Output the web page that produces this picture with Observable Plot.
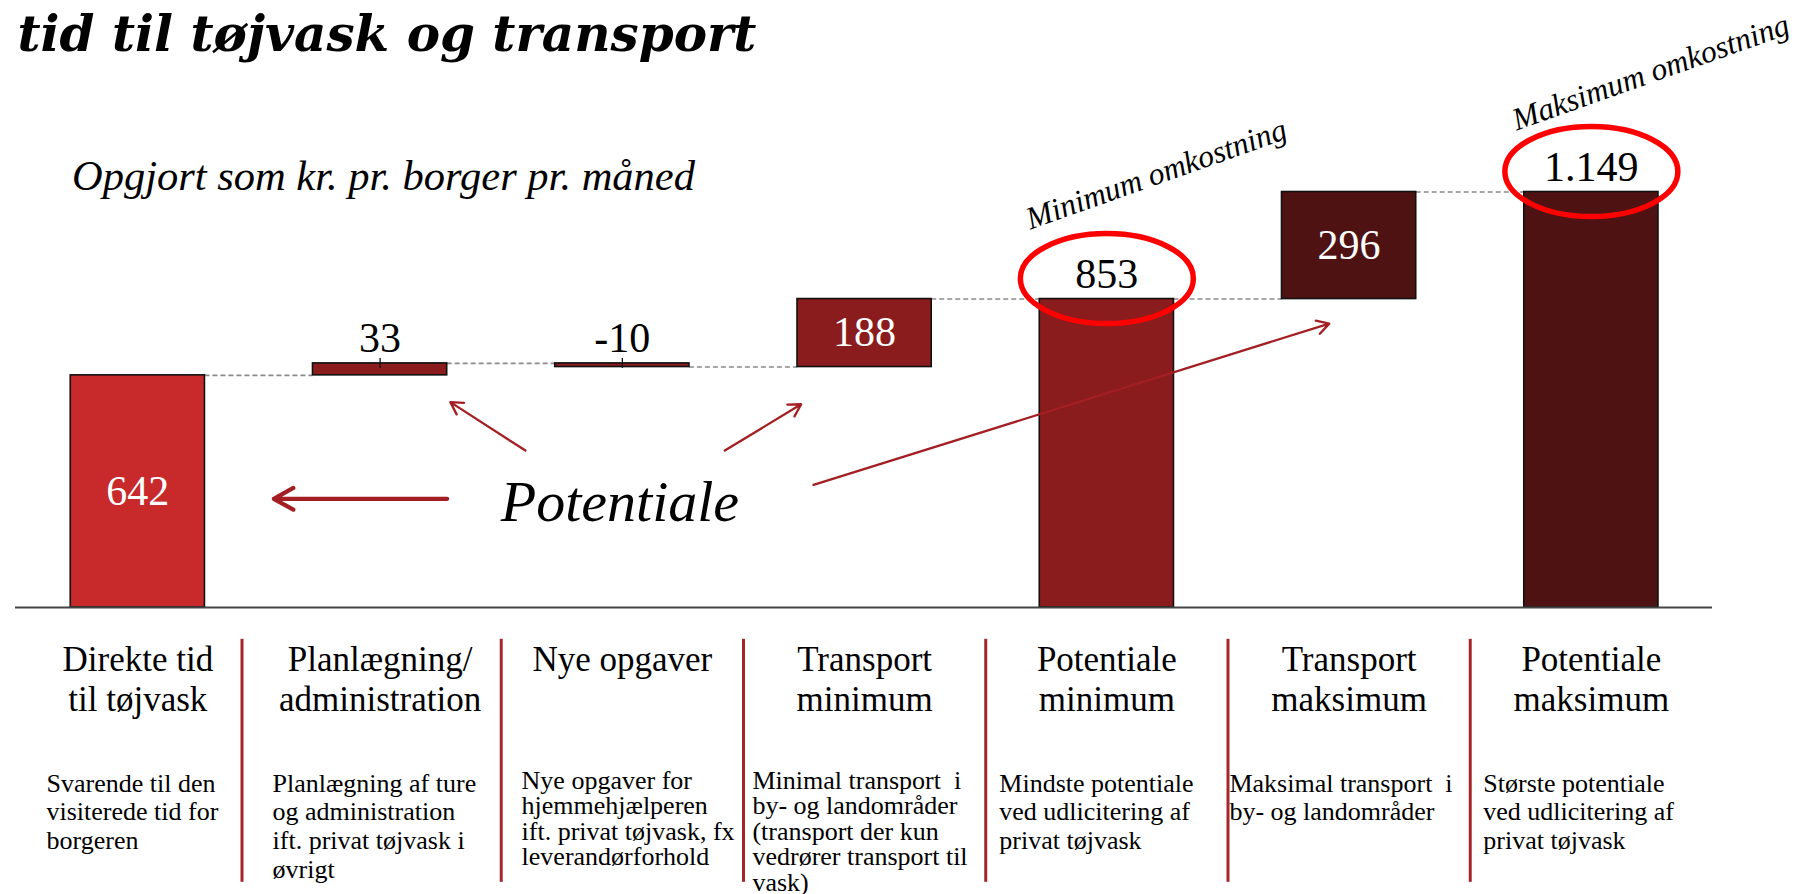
<!DOCTYPE html>
<html>
<head>
<meta charset="utf-8">
<script src="https://cdn.jsdelivr.net/npm/d3@7"></script>
<script src="https://cdn.jsdelivr.net/npm/@observablehq/plot@0.6"></script>
<style>
  body { margin: 0; background: #fff; }
</style>
</head>
<body>
<div id="chart"></div>
<script>
// ---- data ----
const title = "tid til tøjvask og transport";
const subtitle = "Opgjort som kr. pr. borger pr. måned";
const categories = [
  "Direkte tid\ntil tøjvask",
  "Planlægning/\nadministration",
  "Nye opgaver",
  "Transport\nminimum",
  "Potentiale\nminimum",
  "Transport\nmaksimum",
  "Potentiale\nmaksimum"
];
const descriptions = [
  "Svarende til den\nvisiterede tid for\nborgeren",
  "Planlægning af ture\nog administration\nift. privat tøjvask i\nøvrigt",
  "Nye opgaver for\nhjemmehjælperen\nift. privat tøjvask, fx\nleverandørforhold",
  "Minimal transport  i\nby- og landområder\n(transport der kun\nvedrører transport til\nvask)",
  "Mindste potentiale\nved udlicitering af\nprivat tøjvask",
  "Maksimal transport  i\nby- og landområder",
  "Største potentiale\nved udlicitering af\nprivat tøjvask"
];
const values = [642, 33, -10, 188, 853, 296, 1149];
const valueLabels = ["642", "33", "-10", "188", "853", "296", "1.149"];
const kinds = ["step", "step", "step", "step", "total", "step", "total"];
const series = ["Direkte", "Minimum", "Minimum", "Minimum", "Minimum", "Maksimum", "Maksimum"];
const labelPlacement = ["inside", "above", "above", "inside", "above", "inside", "above"];
const dividers = [0.43, 1.5, 2.5, 3.5, 4.5, 5.5];
const costNotes = [
  {x: 4.204, y: 1198, text: "Minimum omkostning"},
  {x: 6.245, y: 1480, text: "Maksimum omkostning"}
];
const potentialeNote = [{x: 1.99, y: 238, text: "Potentiale"}];
const mainArrow = [{x1: 1.277, y1: 300.6, x2: 0.561, y2: 300.6}];
const sideArrows = [
  {x1: 1.600, y1: 434, x2: 1.290, y2: 568},
  {x1: 2.423, y1: 434, x2: 2.738, y2: 562},
  {x1: 2.789, y1: 339, x2: 4.918, y2: 785}
];

// ---- waterfall table ----
let running = 0;
const rows = values.map((v, i) => {
  const total = kinds[i] === "total";
  const start = total ? 0 : running;
  const end = total ? v : running + v;
  running = end;
  return {i, v, start, end, top: Math.max(start, end), mid: (start + end) / 2,
          label: valueLabels[i], series: series[i], place: labelPlacement[i], kind: kinds[i]};
});

// ---- layout ----
const HW = 0.277;
const serif = "'Liberation Serif', 'Times New Roman', serif";
const arrowColor = "#A31F23";
const descInset = [-0.377, -0.444, -0.416, -0.463, -0.444, -0.494, -0.446];
const descCompact = [false, false, true, true, false, false, false];
const descRows = descriptions.map((text, i) => ({i, text, x: i + descInset[i], compact: descCompact[i]}));

// ellipse symbol for highlight rings
const ellipseSymbol = {
  draw(context, size) {
    const rx = Math.sqrt(size / Math.PI), ry = rx * 0.52, k = 0.5522847498;
    context.moveTo(rx, 0);
    context.bezierCurveTo(rx, k * ry, k * rx, ry, 0, ry);
    context.bezierCurveTo(-k * rx, ry, -rx, k * ry, -rx, 0);
    context.bezierCurveTo(-rx, -k * ry, -k * rx, -ry, 0, -ry);
    context.bezierCurveTo(k * rx, -ry, rx, -k * ry, rx, 0);
    context.closePath();
  }
};

const chart = Plot.plot({
  width: 1809,
  height: 894,
  marginTop: 0,
  marginRight: 97,
  marginBottom: 287,
  marginLeft: 15,
  x: {type: "linear", domain: [-0.505, 6.5], axis: null},
  y: {domain: [0, 1678.6], axis: null},
  color: {domain: ["Direkte", "Minimum", "Maksimum"], range: ["#C8292A", "#8A1C1E", "#4F1213"]},
  style: {fontFamily: serif, background: "white", overflow: "visible"},
  marks: [
    // title & subtitle
    Plot.text([title], {text: d => d, frameAnchor: "top-left", dx: 2, dy: 50, lineAnchor: "bottom",
      textAnchor: "start", fontFamily: "'DejaVu Serif', serif", fontWeight: "bold", fontStyle: "italic",
      fontSize: 50, fill: "black"}),
    Plot.text([subtitle], {text: d => d, frameAnchor: "top-left", dx: 56.5, dy: 189, lineAnchor: "bottom",
      textAnchor: "start", fontStyle: "italic", fontSize: 42.5, fill: "black"}),

    // dashed connectors
    Plot.ruleY(rows.slice(0, -1), {y: "end", x1: d => d.i + HW, x2: d => d.i + 1 - HW,
      stroke: "#8c8c8c", strokeWidth: 1.6, strokeDasharray: "5,3"}),

    // bars
    Plot.rect(rows, {x1: d => d.i - HW, x2: d => d.i + HW, y1: "start", y2: "end",
      fill: "series", stroke: "#111", strokeWidth: 1.6}),

    // small tick marks on small bars
    Plot.ruleX(rows.filter(d => Math.abs(d.v) < 50), {x: "i", y1: "top", y2: "top",
      insetTop: -5, insetBottom: -5, stroke: "#111", strokeWidth: 1.3}),

    // baseline
    Plot.ruleY([0], {stroke: "#444", strokeWidth: 2}),

    // value labels
    Plot.text(rows.filter(d => d.place === "inside"), {x: "i", y: "mid", text: "label",
      fill: "white", fontSize: 42, lineAnchor: "middle"}),
    Plot.text(rows.filter(d => d.place === "above"), {x: "i", y: "top", text: "label",
      fill: "black", fontSize: 42, lineAnchor: "bottom", dy: -11}),

    // highlight ellipses on totals
    Plot.dot(rows.filter(d => d.kind === "total"), {x: "i", y: "top", dy: -20.5, r: 86.5,
      symbol: ellipseSymbol, fill: "none", stroke: "#FF0000", strokeWidth: 5.5}),

    // rotated notes
    Plot.text(costNotes, {x: "x", y: "y", text: "text", rotate: -19.5, fontStyle: "italic",
      fontSize: 31.5, fill: "black", lineAnchor: "middle"}),

    // Potentiale annotation
    Plot.text(potentialeNote, {x: "x", y: "y", text: "text", fontStyle: "italic",
      fontSize: 58, fill: "black", lineAnchor: "bottom"}),
    Plot.arrow(mainArrow, {x1: "x1", y1: "y1", x2: "x2", y2: "y2", stroke: arrowColor,
      strokeWidth: 4.2, headLength: 8, headAngle: 58}),
    Plot.arrow(sideArrows, {x1: "x1", y1: "y1", x2: "x2", y2: "y2", stroke: arrowColor,
      strokeWidth: 2.3, headLength: 9, headAngle: 60}),

    // column dividers
    Plot.ruleX(dividers, {x: d => d, y1: -88, y2: -760, stroke: "#A5262A", strokeWidth: 3}),

    // category headers
    Plot.text(categories, {x: (d, i) => i, text: d => d, frameAnchor: "bottom", dy: 35.3,
      lineAnchor: "top", lineHeight: 1.134, fontSize: 35, fill: "black"}),

    // descriptions (regular spacing)
    Plot.text(descRows.filter(d => !d.compact), {x: "x", text: "text", frameAnchor: "bottom", dy: 164,
      lineAnchor: "top", textAnchor: "start", lineHeight: 1.1, fontSize: 26, fill: "black"}),
    // descriptions (tighter spacing, as in the reference)
    Plot.text(descRows.filter(d => d.compact), {x: "x", text: "text", frameAnchor: "bottom", dy: 163,
      lineAnchor: "top", textAnchor: "start", lineHeight: 0.98, fontSize: 26, fill: "black"})
  ]
});

document.getElementById("chart").appendChild(chart);
</script>
</body>
</html>
